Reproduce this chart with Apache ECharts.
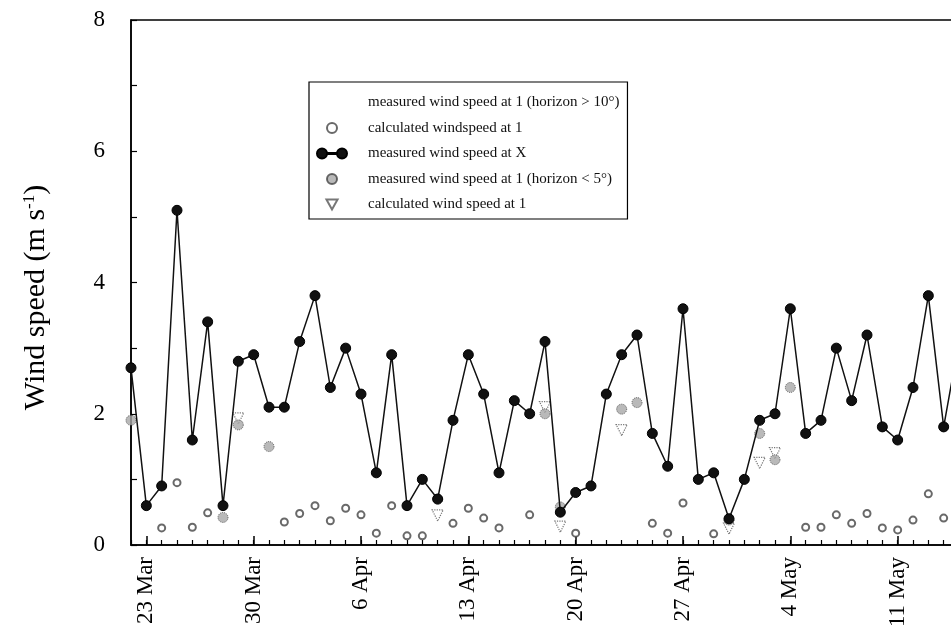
<!DOCTYPE html>
<html>
<head>
<meta charset="utf-8">
<script src="https://cdn.jsdelivr.net/npm/echarts@6/dist/echarts.min.js"></script>
<style>
  html, body { margin: 0; padding: 0; background: #fff; }
  #chart { width: 951px; height: 633px; }
</style>
</head>
<body>
<div id="chart"></div>
<script>
// one entry per day, 22 Mar .. 15 May
const days = [
  '22 Mar', '23 Mar', '24 Mar', '25 Mar', '26 Mar', '27 Mar', '28 Mar', '29 Mar', '30 Mar', '31 Mar',
  '1 Apr', '2 Apr', '3 Apr', '4 Apr', '5 Apr', '6 Apr', '7 Apr', '8 Apr', '9 Apr', '10 Apr',
  '11 Apr', '12 Apr', '13 Apr', '14 Apr', '15 Apr', '16 Apr', '17 Apr', '18 Apr', '19 Apr', '20 Apr',
  '21 Apr', '22 Apr', '23 Apr', '24 Apr', '25 Apr', '26 Apr', '27 Apr', '28 Apr', '29 Apr', '30 Apr',
  '1 May', '2 May', '3 May', '4 May', '5 May', '6 May', '7 May', '8 May', '9 May', '10 May',
  '11 May', '12 May', '13 May', '14 May', '15 May'
];

const measuredX = [
  2.7, 0.6, 0.9, 5.1, 1.6, 3.4, 0.6, 2.8, 2.9, 2.1,
  2.1, 3.1, 3.8, 2.4, 3.0, 2.3, 1.1, 2.9, 0.6, 1.0,
  0.7, 1.9, 2.9, 2.3, 1.1, 2.2, 2.0, 3.1, 0.5, 0.8,
  0.9, 2.3, 2.9, 3.2, 1.7, 1.2, 3.6, 1.0, 1.1, 0.4,
  1.0, 1.9, 2.0, 3.6, 1.7, 1.9, 3.0, 2.2, 3.2, 1.8,
  1.6, 2.4, 3.8, 1.8, 3.1
];

const calcWindspeed1 = [
  null, null, 0.26, 0.95, 0.27, 0.49, null, null, null, null,
  0.35, 0.48, 0.6, 0.37, 0.56, 0.46, 0.18, 0.6, 0.14, 0.14,
  null, 0.33, 0.56, 0.41, 0.26, null, 0.46, null, null, 0.18,
  null, null, null, null, 0.33, 0.18, 0.64, null, 0.17, null,
  null, null, null, null, 0.27, 0.27, 0.46, 0.33, 0.48, 0.26,
  0.23, 0.38, 0.78, 0.41, null
];

const measured1Low = [
  1.9, null, null, null, null, null, 0.42, 1.83, null, 1.5,
  null, null, null, null, null, null, null, null, null, null,
  0.7, null, null, null, null, null, null, 2.0, 0.58, null,
  null, null, 2.07, 2.17, null, null, null, null, null, 0.38,
  null, 1.7, 1.3, 2.4, null, null, null, null, null, null,
  null, null, null, null, null
];

const calcWindSpeed1 = [
  null, null, null, null, null, null, null, 1.93, null, null,
  null, null, null, null, null, null, null, null, null, null,
  0.45, null, null, null, null, null, null, 2.1, 0.28, null,
  null, null, 1.75, null, null, null, null, null, null, 0.25,
  null, 1.25, 1.4, null, null, null, null, null, null, null,
  null, null, null, null, null
];

// no marks visible for this one in the figure
const measured1High = [];

const yTicks = [0, 2, 4, 6, 8];

const serif = '"Liberation Serif", "DejaVu Serif", serif';
const isWeekMark = (i) => i % 7 === 1;

const chart = echarts.init(document.getElementById('chart'));

chart.setOption({
  backgroundColor: '#fff',
  animation: false,
  textStyle: { fontFamily: serif },
  grid: {
    left: 131,
    top: 20,
    width: 828, // plot runs past the right edge of the picture
    bottom: 88,
    outerBoundsMode: 'none',
    containLabel: false,
    show: true,
    borderColor: '#000',
    borderWidth: 1.5,
    backgroundColor: 'transparent'
  },
  legend: {
    orient: 'vertical',
    left: 309,
    top: 82,
    padding: [13, 8, 7, 7],
    borderColor: '#000',
    borderWidth: 1.2,
    itemWidth: 30,
    itemHeight: 10,
    itemGap: 10.5,
    textStyle: { fontFamily: serif, fontSize: 15, color: '#111', padding: [0, 0, 0, 16] },
    data: [
      { name: 'measured wind speed at 1 (horizon > 10°)' },
      { name: 'calculated windspeed at 1' },
      {
        name: 'measured wind speed at X',
        icon: 'path://M0,5a5,5 0 1,0 10,0a5,5 0 1,0 -10,0ZM10,4.4L20,4.4L20,5.6L10,5.6ZM20,5a5,5 0 1,0 10,0a5,5 0 1,0 -10,0Z'
      },
      { name: 'measured wind speed at 1 (horizon < 5°)' },
      { name: 'calculated wind speed at 1', icon: 'path://M0,0L10,0L5,9Z' }
    ]
  },
  xAxis: [
    {
      type: 'category',
      data: days,
      boundaryGap: false,
      axisLine: { lineStyle: { color: '#000', width: 1.5 } },
      axisTick: { inside: true, length: 5, interval: 0, lineStyle: { color: '#000', width: 1.2 } },
      axisLabel: {
        rotate: 90,
        interval: isWeekMark,
        margin: 12,
        color: '#000',
        fontFamily: serif,
        fontSize: 23
      },
      splitLine: { show: false }
    },
    {
      type: 'category',
      data: days,
      boundaryGap: false,
      position: 'bottom',
      axisLine: { show: false },
      axisTick: { inside: true, length: 9, interval: isWeekMark, lineStyle: { color: '#000', width: 1.5 } },
      axisLabel: { show: false },
      splitLine: { show: false }
    }
  ],
  yAxis: {
    type: 'value',
    min: 0,
    max: 8,
    interval: 1,
    name: 'Wind speed (m s{sup|-1})',
    nameLocation: 'middle',
    nameGap: 80,
    nameTextStyle: {
      fontFamily: serif,
      fontSize: 30,
      color: '#000',
      padding: [0, 30, 0, 0],
      rich: {
        sup: { fontFamily: serif, fontSize: 17, color: '#000', verticalAlign: 'top', padding: [0, 0, 12, 0] }
      }
    },
    axisLine: { show: true, lineStyle: { color: '#000', width: 1.5 } },
    axisTick: { show: true, inside: true, length: 6, lineStyle: { color: '#000', width: 1.2 } },
    axisLabel: {
      margin: 26,
      color: '#000',
      fontFamily: serif,
      fontSize: 23,
      formatter: (v) => (yTicks.indexOf(v) >= 0 ? String(v) : '')
    },
    splitLine: { show: false }
  },
  series: [
    {
      name: 'measured wind speed at 1 (horizon > 10°)',
      type: 'scatter',
      data: measured1High,
      symbolSize: 6,
      itemStyle: { color: 'rgba(0,0,0,0)' }
    },
    {
      name: 'calculated windspeed at 1',
      type: 'scatter',
      data: calcWindspeed1,
      symbol: 'emptyCircle',
      symbolSize: 7,
      itemStyle: { color: '#444', borderColor: '#444', borderWidth: 1.1 }
    },
    {
      name: 'measured wind speed at 1 (horizon < 5°)',
      type: 'scatter',
      data: measured1Low,
      symbol: 'circle',
      symbolSize: 10,
      z: 4,
      itemStyle: { color: '#a8a8a8', borderColor: '#444', borderWidth: 1, borderType: 'dotted' }
    },
    {
      name: 'calculated wind speed at 1',
      type: 'scatter',
      data: calcWindSpeed1,
      symbol: 'triangle',
      symbolRotate: 180,
      symbolSize: 11,
      z: 3,
      itemStyle: { color: '#fff', borderColor: '#555', borderWidth: 1.2, borderType: 'dotted' }
    },
    {
      name: 'measured wind speed at X',
      type: 'line',
      data: measuredX,
      symbol: 'circle',
      symbolSize: 10,
      showAllSymbol: true,
      z: 5,
      itemStyle: { color: '#111', borderColor: '#000', borderWidth: 1 },
      lineStyle: { color: '#111', width: 1.5 }
    }
  ]
});
</script>
</body>
</html>
